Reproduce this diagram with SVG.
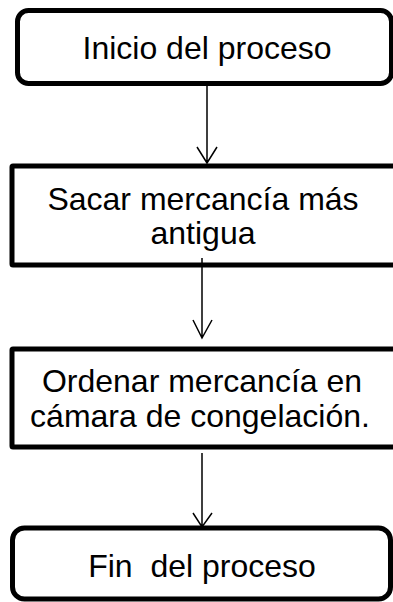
<svg xmlns="http://www.w3.org/2000/svg" width="393" height="602" viewBox="0 0 393 602">
<style>
.box{fill:#fff;stroke:#000;stroke-width:5}
.t{font-family:"Liberation Sans",Arial,sans-serif;font-size:32px;fill:#000;text-anchor:middle}
.c{fill:none;stroke:#000;stroke-width:1.5}
</style>
<rect width="393" height="602" fill="#fff"/>
<g id="n1"><rect class="box" x="17.5" y="10.5" width="374" height="73" rx="11"/><text class="t" x="207" y="59">Inicio del proceso</text></g>
<g id="n2"><rect class="box" x="12" y="166" width="390" height="99" rx="1"/><text class="t" x="203" y="210">Sacar mercancía más</text><text class="t" x="203" y="244">antigua</text></g>
<g id="n3"><rect class="box" x="12" y="349" width="390" height="98" rx="1"/><text class="t" x="202" y="392">Ordenar mercancía en</text><text class="t" x="200" y="427">cámara de congelación.</text></g>
<g id="n4"><rect class="box" x="12.5" y="528" width="378" height="71" rx="12"/><text class="t" x="202" y="577" xml:space="preserve">Fin  del proceso</text></g>
<g id="connectors">
<path class="c" d="M207 85V163M197 147L207 163L217 147"/>
<path class="c" d="M202 258V338M193 320L202 338L212 320"/>
<path class="c" d="M202 453V527M193 513L202 527L212 513"/>
</g>
</svg>
